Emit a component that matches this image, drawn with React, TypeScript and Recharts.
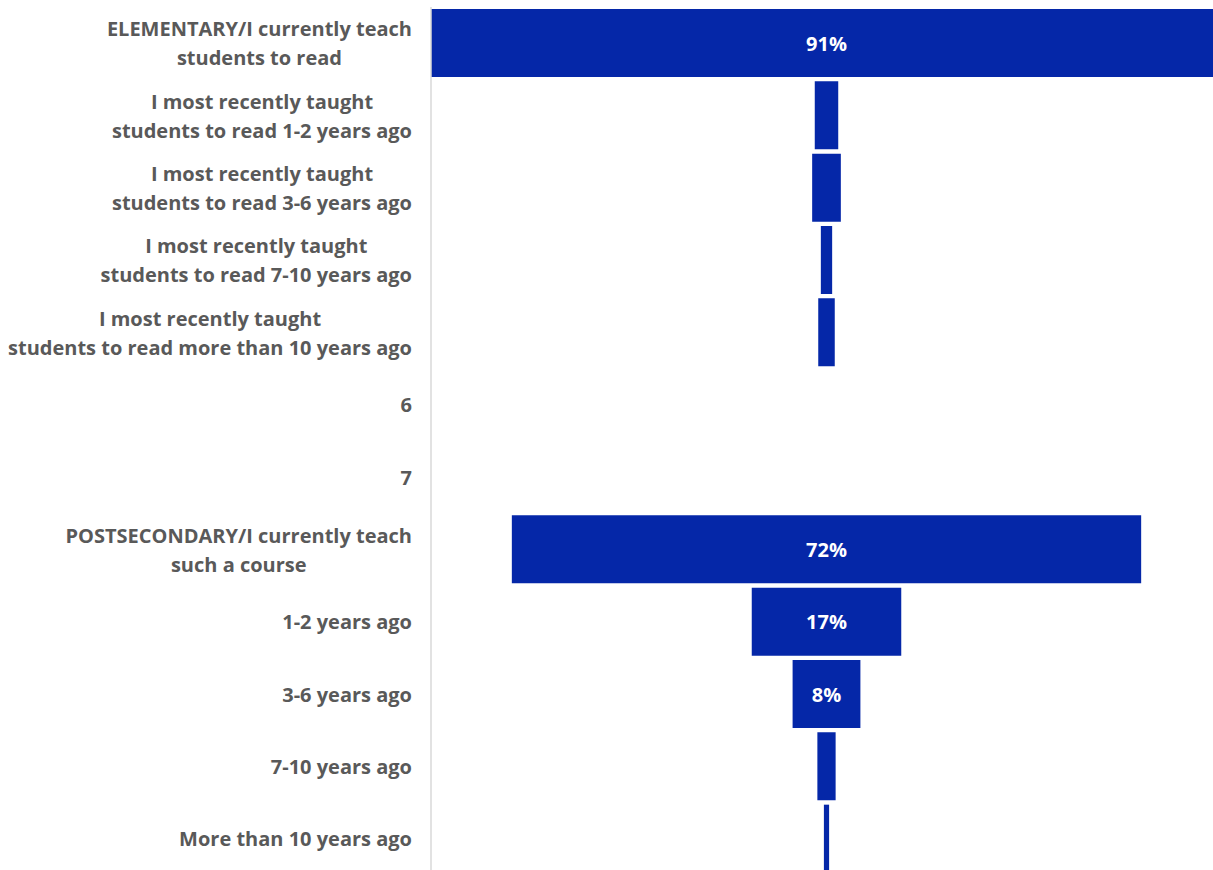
import { BarChart, Bar, XAxis, YAxis, LabelList } from 'recharts';

const categories = [
  'ELEMENTARY/I currently teach\nstudents to read',
  'I most recently taught\nstudents to read 1-2 years ago',
  'I most recently taught\nstudents to read 3-6 years ago',
  'I most recently taught\nstudents to read 7-10 years ago',
  'I most recently taught\nstudents to read more than 10 years ago',
  '6',
  '7',
  'POSTSECONDARY/I currently teach\nsuch a course',
  '1-2 years ago',
  '3-6 years ago',
  '7-10 years ago',
  'More than 10 years ago',
];

const shares: (number | null)[] = [91, 2.7, 3.3, 1.3, 1.9, null, null, 72.4, 17.2, 7.8, 2.1, 0.6];

const BLUE = '#0527A8';
const GREY = '#595959';
const FONT = '"Open Sans", sans-serif';
const FS = 20;
const LINE_H = 29;

const maxShare = Math.max(...shares.map((v) => v ?? 0));

const data = categories.map((name, i) => {
  const v = shares[i];
  return {
    name,
    pad: v == null ? 0 : (maxShare - v) / 2,
    value: v,
  };
});

let ctx: CanvasRenderingContext2D | null = null;
function textWidth(t: string) {
  if (!ctx) ctx = document.createElement('canvas').getContext('2d');
  if (!ctx) return t.length * FS * 0.55;
  ctx.font = `bold ${FS}px "Open Sans"`;
  return ctx.measureText(t).width;
}

function CategoryTick(props: any) {
  const { x, y, payload } = props;
  const lines = String(payload.value).split('\n');
  const w = Math.max(...lines.map(textWidth));
  const cx = x - w / 2;
  return (
    <g>
      {lines.map((line, i) => (
        <text
          key={i}
          x={cx}
          y={y + (i - (lines.length - 1) / 2) * LINE_H}
          textAnchor="middle"
          dominantBaseline="central"
          fill={GREY}
          fontSize={FS}
          fontWeight="bold"
          fontFamily={FONT}
        >
          {line}
        </text>
      ))}
    </g>
  );
}

function ShareLabel(props: any) {
  const { x, y, width, height, value } = props;
  if (value == null || value < 5) return null;
  return (
    <text
      x={x + width / 2}
      y={y + height / 2}
      textAnchor="middle"
      dominantBaseline="central"
      fill="#ffffff"
      fontSize={FS}
      fontWeight="bold"
      fontFamily={FONT}
    >
      {`${Math.round(value)}%`}
    </text>
  );
}

export default function App() {
  return (
    <div
      style={{
        position: 'absolute',
        left: 0,
        top: 0,
        width: 1213,
        height: 870,
        overflow: 'hidden',
        background: '#ffffff',
      }}
    >
      <BarChart
        width={1222}
        height={875}
        data={data}
        layout="vertical"
        margin={{ top: 7, right: 0, bottom: 0, left: 0 }}
        barCategoryGap={2}
      >
        <XAxis type="number" hide domain={[0, maxShare]} />
        <YAxis
          type="category"
          dataKey="name"
          width={431}
          axisLine={{ stroke: '#d9d9d9', strokeWidth: 1.5 }}
          tickLine={false}
          tickMargin={13}
          tick={<CategoryTick />}
          interval={0}
        />
        <Bar dataKey="pad" stackId="a" fill="transparent" isAnimationActive={false} />
        <Bar dataKey="value" stackId="a" fill={BLUE} isAnimationActive={false}>
          <LabelList dataKey="value" content={<ShareLabel />} />
        </Bar>
      </BarChart>
    </div>
  );
}
